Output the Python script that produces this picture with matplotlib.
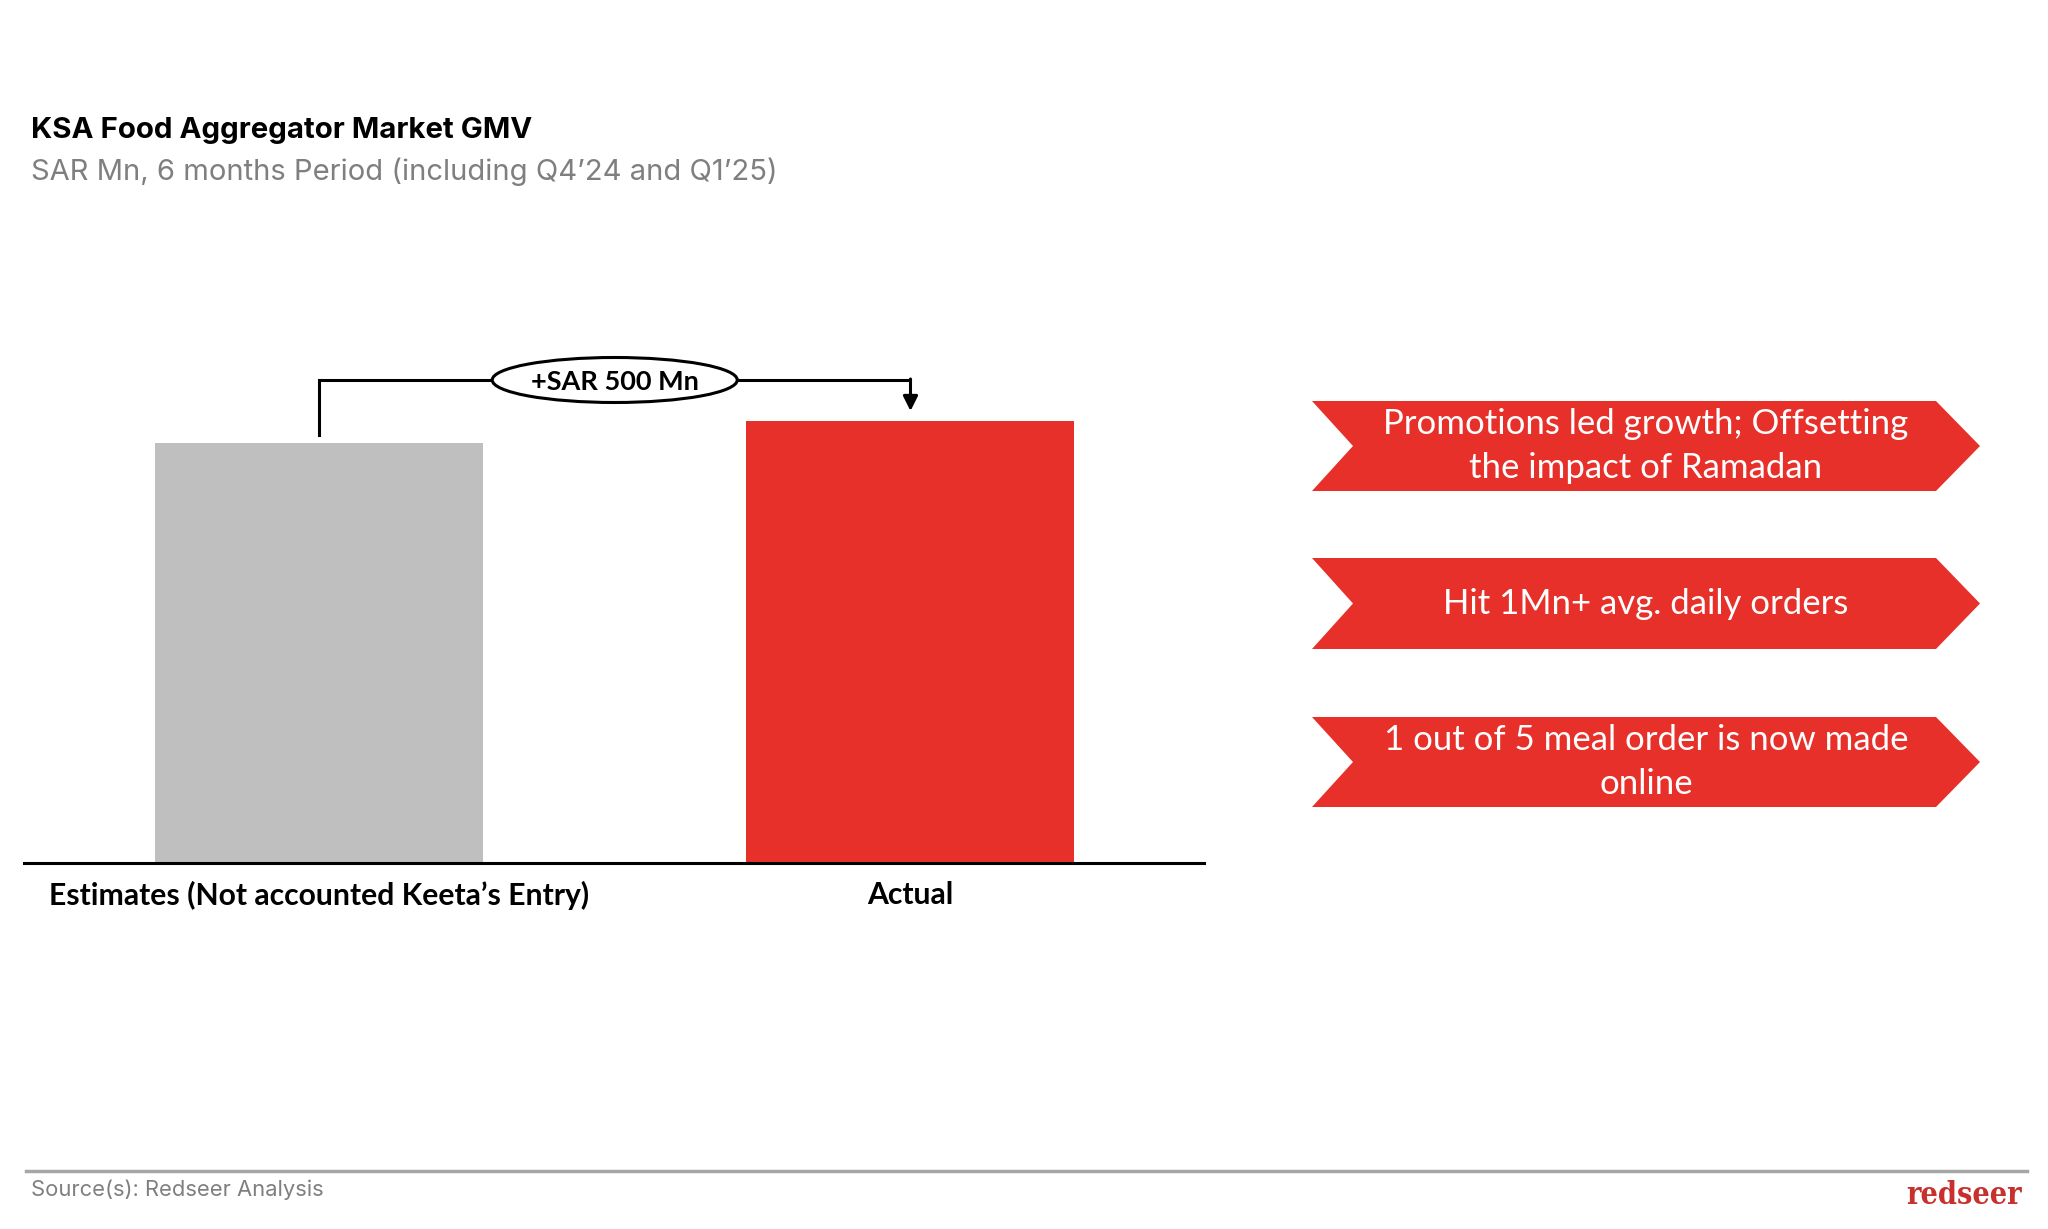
import numpy as np
import matplotlib.pyplot as plt
from matplotlib.patches import Ellipse, Polygon

# data
categories = ["Estimates (Not accounted Keeta\u2019s Entry)", "Actual"]
gmv_values = [9500, 10000]   # SAR Mn
delta_label = "+SAR 500 Mn"
bar_colors = ["#BFBFBF", "#E8302A"]
callouts = ["Promotions led growth; Offsetting\nthe impact of Ramadan",
            "Hit 1Mn+ avg. daily orders",
            "1 out of 5 meal order is now made\nonline"]

W, H = 2048, 1229
fig = plt.figure(figsize=(W / 100, H / 100), dpi=100)
fig.patch.set_facecolor("white")

# bar axes, placed in pixel terms
ax = fig.add_axes([24 / W, (H - 863) / H, 1180 / W, 503 / H])
x = np.arange(len(categories))
ax.bar(x, gmv_values, width=0.5545, color=bar_colors, zorder=2)
ax.set_xlim(-0.4987, 1.4962)
ax.set_ylim(0, 11380)
for s in ["top", "right", "left"]:
    ax.spines[s].set_visible(False)
ax.spines["bottom"].set_linewidth(2.2)
ax.spines["bottom"].set_color("black")
ax.set_yticks([])
ax.set_xticks(x)
ax.set_xticklabels(categories, fontsize=21.7, fontweight="bold", family="Lato")
ax.tick_params(axis="x", length=0, pad=13)

# bracket showing the difference
px = 10000 / 442  # data units per pixel
y_start = gmv_values[0] + 8 * px
y_top = gmv_values[1] + 41 * px
y_tip = gmv_values[1] + 10 * px
ax.plot([x[0], x[0], x[1]], [y_start, y_top, y_top], color="black", lw=2.2,
        solid_joinstyle="miter", zorder=3)
ax.annotate("", xy=(x[1], y_tip), xytext=(x[1], y_top + 1 * px),
            arrowprops=dict(arrowstyle="-|>", color="black", lw=2.2,
                            mutation_scale=22, shrinkA=0, shrinkB=0), zorder=3)
mid = (x[0] + x[1]) / 2
ax.add_patch(Ellipse((mid, y_top), width=245 / 591.5, height=45 * px,
                     facecolor="white", edgecolor="black", lw=2.2, zorder=4,
                     clip_on=False))
ax.text(mid, y_top - 2 * px, delta_label, ha="center", va="center", fontsize=19.5,
        fontweight="bold", family="Lato", zorder=5)

# overlay in pixel coords for titles, chevrons and footer
ov = fig.add_axes([0, 0, 1, 1], facecolor="none")
ov.set_xlim(0, W)
ov.set_ylim(H, 0)
ov.axis("off")

ov.text(31, 131, "KSA Food Aggregator Market GMV", fontsize=21.2, fontweight="bold",
        family="Inter", va="center", ha="left", color="black")
ov.text(31, 172, "SAR Mn, 6 months Period (including Q4\u201924 and Q1\u201925)",
        fontsize=21, family="Inter", va="center", ha="left", color="#7F7F7F")

rows = [(401, 491), (558, 649), (717, 807)]
for (top, bot), txt in zip(rows, callouts):
    mid_y = (top + bot) / 2
    pts = [(1312, top), (1936, top), (1980, mid_y), (1936, bot),
           (1312, bot), (1353, mid_y)]
    ov.add_patch(Polygon(pts, closed=True, facecolor="#E8302A", edgecolor="none"))
    ov.text(1646, mid_y, txt, ha="center", va="center", color="white",
            fontsize=25, family="Lato", linespacing=1.5)

ov.plot([26, 2027], [1171, 1171], color="#A6A6A6", lw=2.5)
ov.text(31, 1190, "Source(s): Redseer Analysis", fontsize=15.8, family="Inter",
        color="#7F7F7F", va="center", ha="left")
ov.text(2022, 1195, "redseer", fontsize=22, family="DejaVu Serif", fontweight="bold",
        color="#C8302E", va="center", ha="right", fontstretch="condensed")

fig.savefig("out.png", dpi=100, facecolor="white")
